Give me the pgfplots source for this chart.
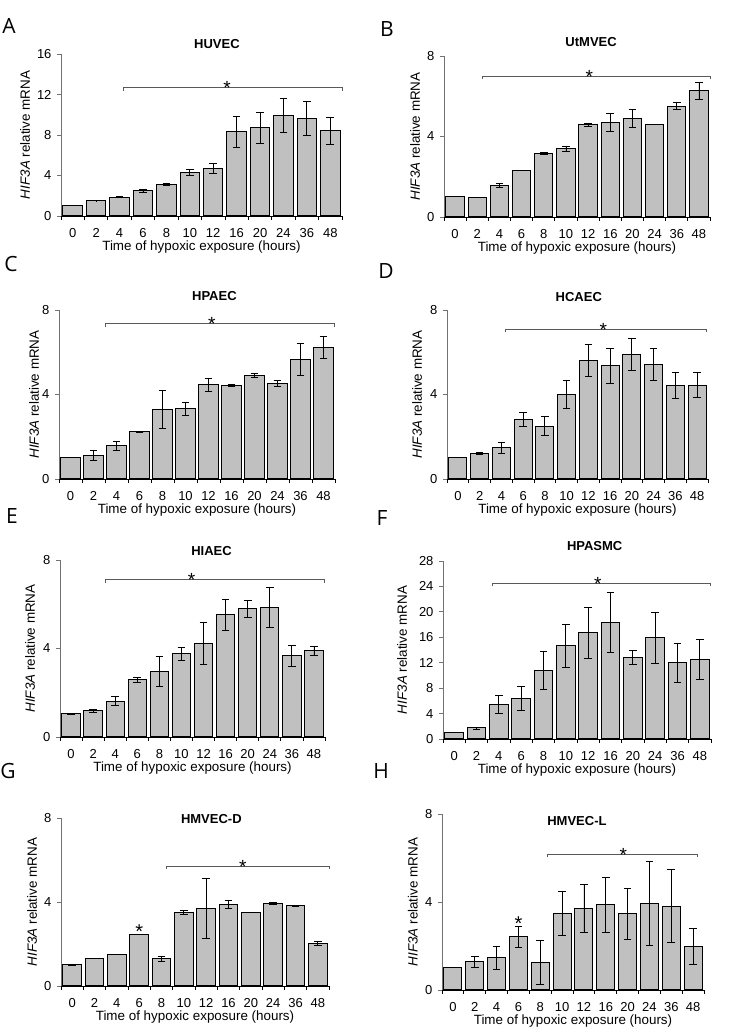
\documentclass[border=0pt]{standalone}
\usepackage{fontspec}
\setmainfont{Liberation Sans}
\newfontfamily\letterfont{Open Sans}
\usepackage{pgfplots}
\usepackage{pgfplotstable}
\pgfplotsset{compat=1.18}
\definecolor{barfill}{RGB}{192,192,192}

\pgfplotstableread{
x y e
0 1.00 0
1 1.52 0.02
2 1.85 0.04
3 2.51 0.15
4 3.10 0.07
5 4.30 0.30
6 4.66 0.50
7 8.33 1.52
8 8.73 1.55
9 9.95 1.65
10 9.65 1.70
11 8.43 1.35
}\dataA
\pgfplotstableread{
x y e
0 1.00 0
1 0.96 0
2 1.56 0.10
3 2.30 0
4 3.15 0.04
5 3.39 0.14
6 4.59 0.08
7 4.69 0.45
8 4.90 0.43
9 4.60 0
10 5.50 0.17
11 6.27 0.42
}\dataB
\pgfplotstableread{
x y e
0 1.01 0
1 1.11 0.25
2 1.57 0.23
3 2.23 0.03
4 3.29 0.90
5 3.32 0.30
6 4.47 0.30
7 4.43 0.07
8 4.89 0.10
9 4.51 0.15
10 5.66 0.77
11 6.21 0.52
}\dataC
\pgfplotstableread{
x y e
0 1.02 0
1 1.23 0.05
2 1.48 0.25
3 2.82 0.31
4 2.50 0.45
5 4.00 0.66
6 5.62 0.74
7 5.37 0.83
8 5.89 0.76
9 5.43 0.76
10 4.43 0.63
11 4.44 0.59
}\dataD
\pgfplotstableread{
x y e
0 1.04 0
1 1.19 0.06
2 1.62 0.21
3 2.59 0.10
4 2.98 0.68
5 3.76 0.29
6 4.23 0.95
7 5.52 0.68
8 5.80 0.38
9 5.86 0.90
10 3.67 0.47
11 3.89 0.19
}\dataE
\pgfplotstableread{
x y e
0 1.00 0
1 1.73 0.15
2 5.40 1.40
3 6.40 1.90
4 10.75 3.00
5 14.68 3.40
6 16.73 4.00
7 18.35 4.65
8 12.80 1.10
9 15.89 4.00
10 11.96 3.10
11 12.48 3.15
}\dataF
\pgfplotstableread{
x y e
0 1.00 0.03
1 1.31 0
2 1.50 0
3 2.45 0
4 1.29 0.12
5 3.51 0.10
6 3.70 1.42
7 3.89 0.19
8 3.49 0
9 3.94 0.05
10 3.81 0
11 2.04 0.10
}\dataG
\pgfplotstableread{
x y e
0 1.02 0
1 1.29 0.24
2 1.46 0.52
3 2.43 0.48
4 1.26 0.99
5 3.49 1.00
6 3.70 1.10
7 3.87 1.25
8 3.46 1.14
9 3.92 1.91
10 3.81 1.65
11 1.99 0.81
}\dataH

\pgfplotsset{
 panel/.style={
  scale only axis, anchor=south west, clip=false,
  axis x line*=bottom, axis y line*=left,
  xmin=-0.5, xmax=11.5, ymin=0,
  xtick={0,...,11},
  xticklabels={0,2,4,6,8,10,12,16,20,24,36,48},
  minor xtick={-0.5,0.5,...,11.5},
  major x tick style={draw=none},
  minor x tick style={black, line width=0.8pt},
  ytick style={black!55, line width=0.8pt},
  tick align=outside,
  major tick length=4pt, minor tick length=4pt,
  x axis line style={black, line width=0.8pt},
  y axis line style={black!55, line width=0.8pt},
  /pgf/number format/assume math mode=true,
  tick label style={font=\fontsize{13}{15}\selectfont},
  xticklabel style={yshift=-5pt},
  yticklabel style={xshift=-2pt},
  label style={font=\fontsize{13.4}{15}\selectfont},
  xlabel={Time of hypoxic exposure (hours)},
  ylabel={\textit{HIF3A} relative mRNA},
  xlabel style={at={(axis description cs:0.5,0)}, anchor=center, yshift=-31pt},
  title style={font=\bfseries\fontsize{13}{15}\selectfont, anchor=center},
 },
 bars/.style={ybar, bar width=0.83, bar shift=0pt, fill=barfill, draw=black, line width=1pt,
  error bars/.cd, y dir=both, y explicit,
  error bar style={black, line width=0.8pt},
  error mark options={rotate=90, mark size=3.8pt, black, line width=0.8pt}},
}

\newcommand{\sigbar}[4]{%
  \draw[black!65, line width=0.9pt] ([yshift=-3pt]axis cs:#1,#3) -- (axis cs:#1,#3) -- (axis cs:#2,#3) -- ([yshift=-3pt]axis cs:#2,#3);
  \node[anchor=base, inner sep=0pt, font=\fontsize{19}{19}\selectfont] at ([yshift=-7pt]axis cs:#4,#3) {*};
}

\begin{document}
\begin{tikzpicture}
\useasboundingbox (0,0) rectangle (741pt,1033pt);

% Letters
\foreach \l/\x/\y in {A/9/1007, B/387/1004, C/11/769, D/386/762, E/12/517, F/382/515, G/8/262, H/381/262}
  \node[font=\letterfont\fontsize{21}{21}\selectfont, anchor=center] at (\x pt,\y pt) {\l};

% A
\begin{axis}[panel, at={(61pt,817pt)}, width=281pt, height=162pt, ymax=16, ytick={0,4,8,12,16},
  title={HUVEC}, title style={at={(axis description cs:0.555,1.025)}},
  ylabel style={at={(axis description cs:-0.128,0.5)}, anchor=center}]
\addplot[bars] table[x=x,y=y,y error=e]{\dataA};
\sigbar{2.15}{11.54}{12.67}{6.59}
\end{axis}

% B
\begin{axis}[panel, at={(444pt,816pt)}, width=266pt, height=161pt, ymax=8, ytick={0,4,8},
  title={UtMVEC}, title style={at={(axis description cs:0.553,1.05)}},
  ylabel style={at={(axis description cs:-0.109,0.5)}, anchor=center}]
\addplot[bars] table[x=x,y=y,y error=e]{\dataB};
\sigbar{1.23}{11.53}{7.0}{6.05}
\end{axis}

% C
\begin{axis}[panel, at={(59pt,554pt)}, width=276pt, height=169pt, ymax=8, ytick={0,4,8},
  title={HPAEC}, title style={at={(axis description cs:0.563,1.047)}},
  ylabel style={at={(axis description cs:-0.09,0.5)}, anchor=center}]
\addplot[bars] table[x=x,y=y,y error=e]{\dataC};
\sigbar{1.5}{11.46}{7.34}{6.14}
\end{axis}

% D
\begin{axis}[panel, at={(447pt,554pt)}, width=261pt, height=169pt, ymax=8, ytick={0,4,8},
  title={HCAEC}, title style={at={(axis description cs:0.505,1.04)}},
  ylabel style={at={(axis description cs:-0.115,0.5)}, anchor=center}]
\addplot[bars] table[x=x,y=y,y error=e]{\dataD};
\sigbar{2.21}{11.42}{7.09}{6.69}
\end{axis}

% E
\begin{axis}[panel, at={(60pt,296pt)}, width=265pt, height=177pt, ymax=8, ytick={0,4,8},
  title={HIAEC}, title style={at={(axis description cs:0.572,1.017)}},
  ylabel style={at={(axis description cs:-0.113,0.5)}, anchor=center}]
\addplot[bars] table[x=x,y=y,y error=e]{\dataE};
\sigbar{1.54}{11.46}{7.10}{5.46}
\end{axis}

% F
\begin{axis}[panel, at={(443pt,294pt)}, width=268pt, height=178pt, ymax=28, ytick={0,4,...,28},
  title={HPASMC}, title style={at={(axis description cs:0.566,1.05)}},
  ylabel style={at={(axis description cs:-0.153,0.5)}, anchor=center}]
\addplot[bars] table[x=x,y=y,y error=e]{\dataF};
\sigbar{1.73}{11.49}{24.49}{6.43}
\end{axis}

% G
\begin{axis}[panel, at={(61pt,47pt)}, width=268pt, height=168pt, ymax=8, ytick={0,4,8},
  title={HMVEC-D}, title style={at={(axis description cs:0.561,0.958)}},
  ylabel style={at={(axis description cs:-0.108,0.5)}, anchor=center}]
\addplot[bars] table[x=x,y=y,y error=e]{\dataG};
\sigbar{4.2}{11.51}{5.71}{7.64}
\node[anchor=base, inner sep=0pt, font=\fontsize{20}{20}\selectfont] at (axis cs:3,2.25) {*};
\end{axis}

% H
\begin{axis}[panel, at={(442pt,43pt)}, width=262pt, height=176pt, ymax=8, ytick={0,4,8},
  title={HMVEC-L}, title style={at={(axis description cs:0.515,0.928)}},
  ylabel style={at={(axis description cs:-0.111,0.5)}, anchor=center}]
\addplot[bars] table[x=x,y=y,y error=e]{\dataH};
\sigbar{4.34}{11.19}{6.17}{7.81}
\node[anchor=base, inner sep=0pt, font=\fontsize{20}{20}\selectfont] at (axis cs:3,2.70) {*};
\end{axis}
\end{tikzpicture}
\end{document}
